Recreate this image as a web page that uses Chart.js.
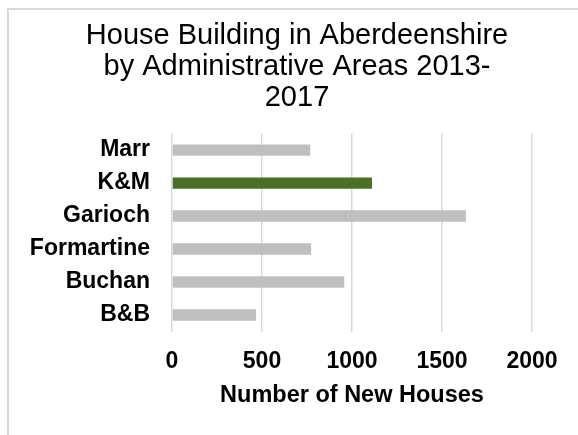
<!DOCTYPE html>
<html>
<head>
<meta charset="utf-8">
<script src="https://cdn.jsdelivr.net/npm/chart.js@4"></script>
<style>
    html, body { margin: 0; padding: 0; background: #fff; }
    #wrap { position: relative; width: 578px; height: 435px; overflow: hidden; }
    #frame {
        position: absolute; left: 7px; top: 8px; width: 700px; height: 600px;
        border-left: 2px solid #d9d9d9; border-top: 2px solid #d9d9d9;
    }
    #houseChart { position: absolute; left: 0; top: 0; }
</style>
</head>
<body>
<div id="wrap">
    <div id="frame"></div>
    <canvas id="houseChart" width="578" height="435"></canvas>
</div>
<script>
// Areas, top to bottom as shown
const areas = ['Marr', 'K&M', 'Garioch', 'Formartine', 'Buchan', 'B&B'];
const newHouses = [768, 1111, 1633, 773, 957, 467];
const xTicks = [0, 500, 1000, 1500, 2000];

const grey = '#bfbfbf';
const green = '#4b6f24';
const barColors = areas.map(a => a === 'K&M' ? green : grey);

const font = 'Arial, "Liberation Sans", sans-serif';

const ctx = document.getElementById('houseChart');
new Chart(ctx, {
    type: 'bar',
    data: {
        labels: areas,
        datasets: [{
            data: newHouses,
            backgroundColor: barColors,
            borderWidth: 0,
            categoryPercentage: 1,
            barPercentage: 0.345
        }]
    },
    options: {
        indexAxis: 'y',
        responsive: false,
        animation: false,
        layout: {
            padding: { left: 16, right: 0, top: 0, bottom: 25 }
        },
        plugins: {
            legend: { display: false },
            tooltip: { enabled: false },
            title: {
                display: true,
                text: ['House Building in Aberdeenshire', 'by Administrative Areas 2013-', '2017'],
                color: '#000',
                font: { family: font, size: 29, weight: 'normal', lineHeight: 1.07 },
                padding: { top: 20, bottom: 20.5 }
            }
        },
        scales: {
            x: {
                min: 0,
                max: 2000,
                afterBuildTicks: function (scale) {
                    scale.ticks = xTicks.map(v => ({ value: v }));
                },
                afterFit: function (scale) {
                    // keep the plot's right edge at the 2000 line
                    scale.paddingRight = 46;
                    scale.height = 78.5;
                },
                grid: {
                    color: '#d9d9d9',
                    lineWidth: 1.5,
                    drawTicks: false
                },
                border: { display: false },
                ticks: {
                    color: '#000',
                    padding: 16.7,
                    font: { family: font, size: 23, weight: 'bold' },
                    callback: function (value) {
                        return String(value);
                    }
                },
                title: {
                    display: true,
                    text: 'Number of New Houses',
                    color: '#000',
                    font: { family: font, size: 23.5, weight: 'bold' },
                    padding: { top: 0, bottom: 0 }
                }
            },
            y: {
                grid: { display: false, drawTicks: false },
                border: { display: false },
                afterFit: function (scale) {
                    scale.width = 156;
                },
                ticks: {
                    color: '#000',
                    padding: 22,
                    font: { family: font, size: 23, weight: 'bold' }
                }
            }
        }
    }
});
</script>
</body>
</html>
